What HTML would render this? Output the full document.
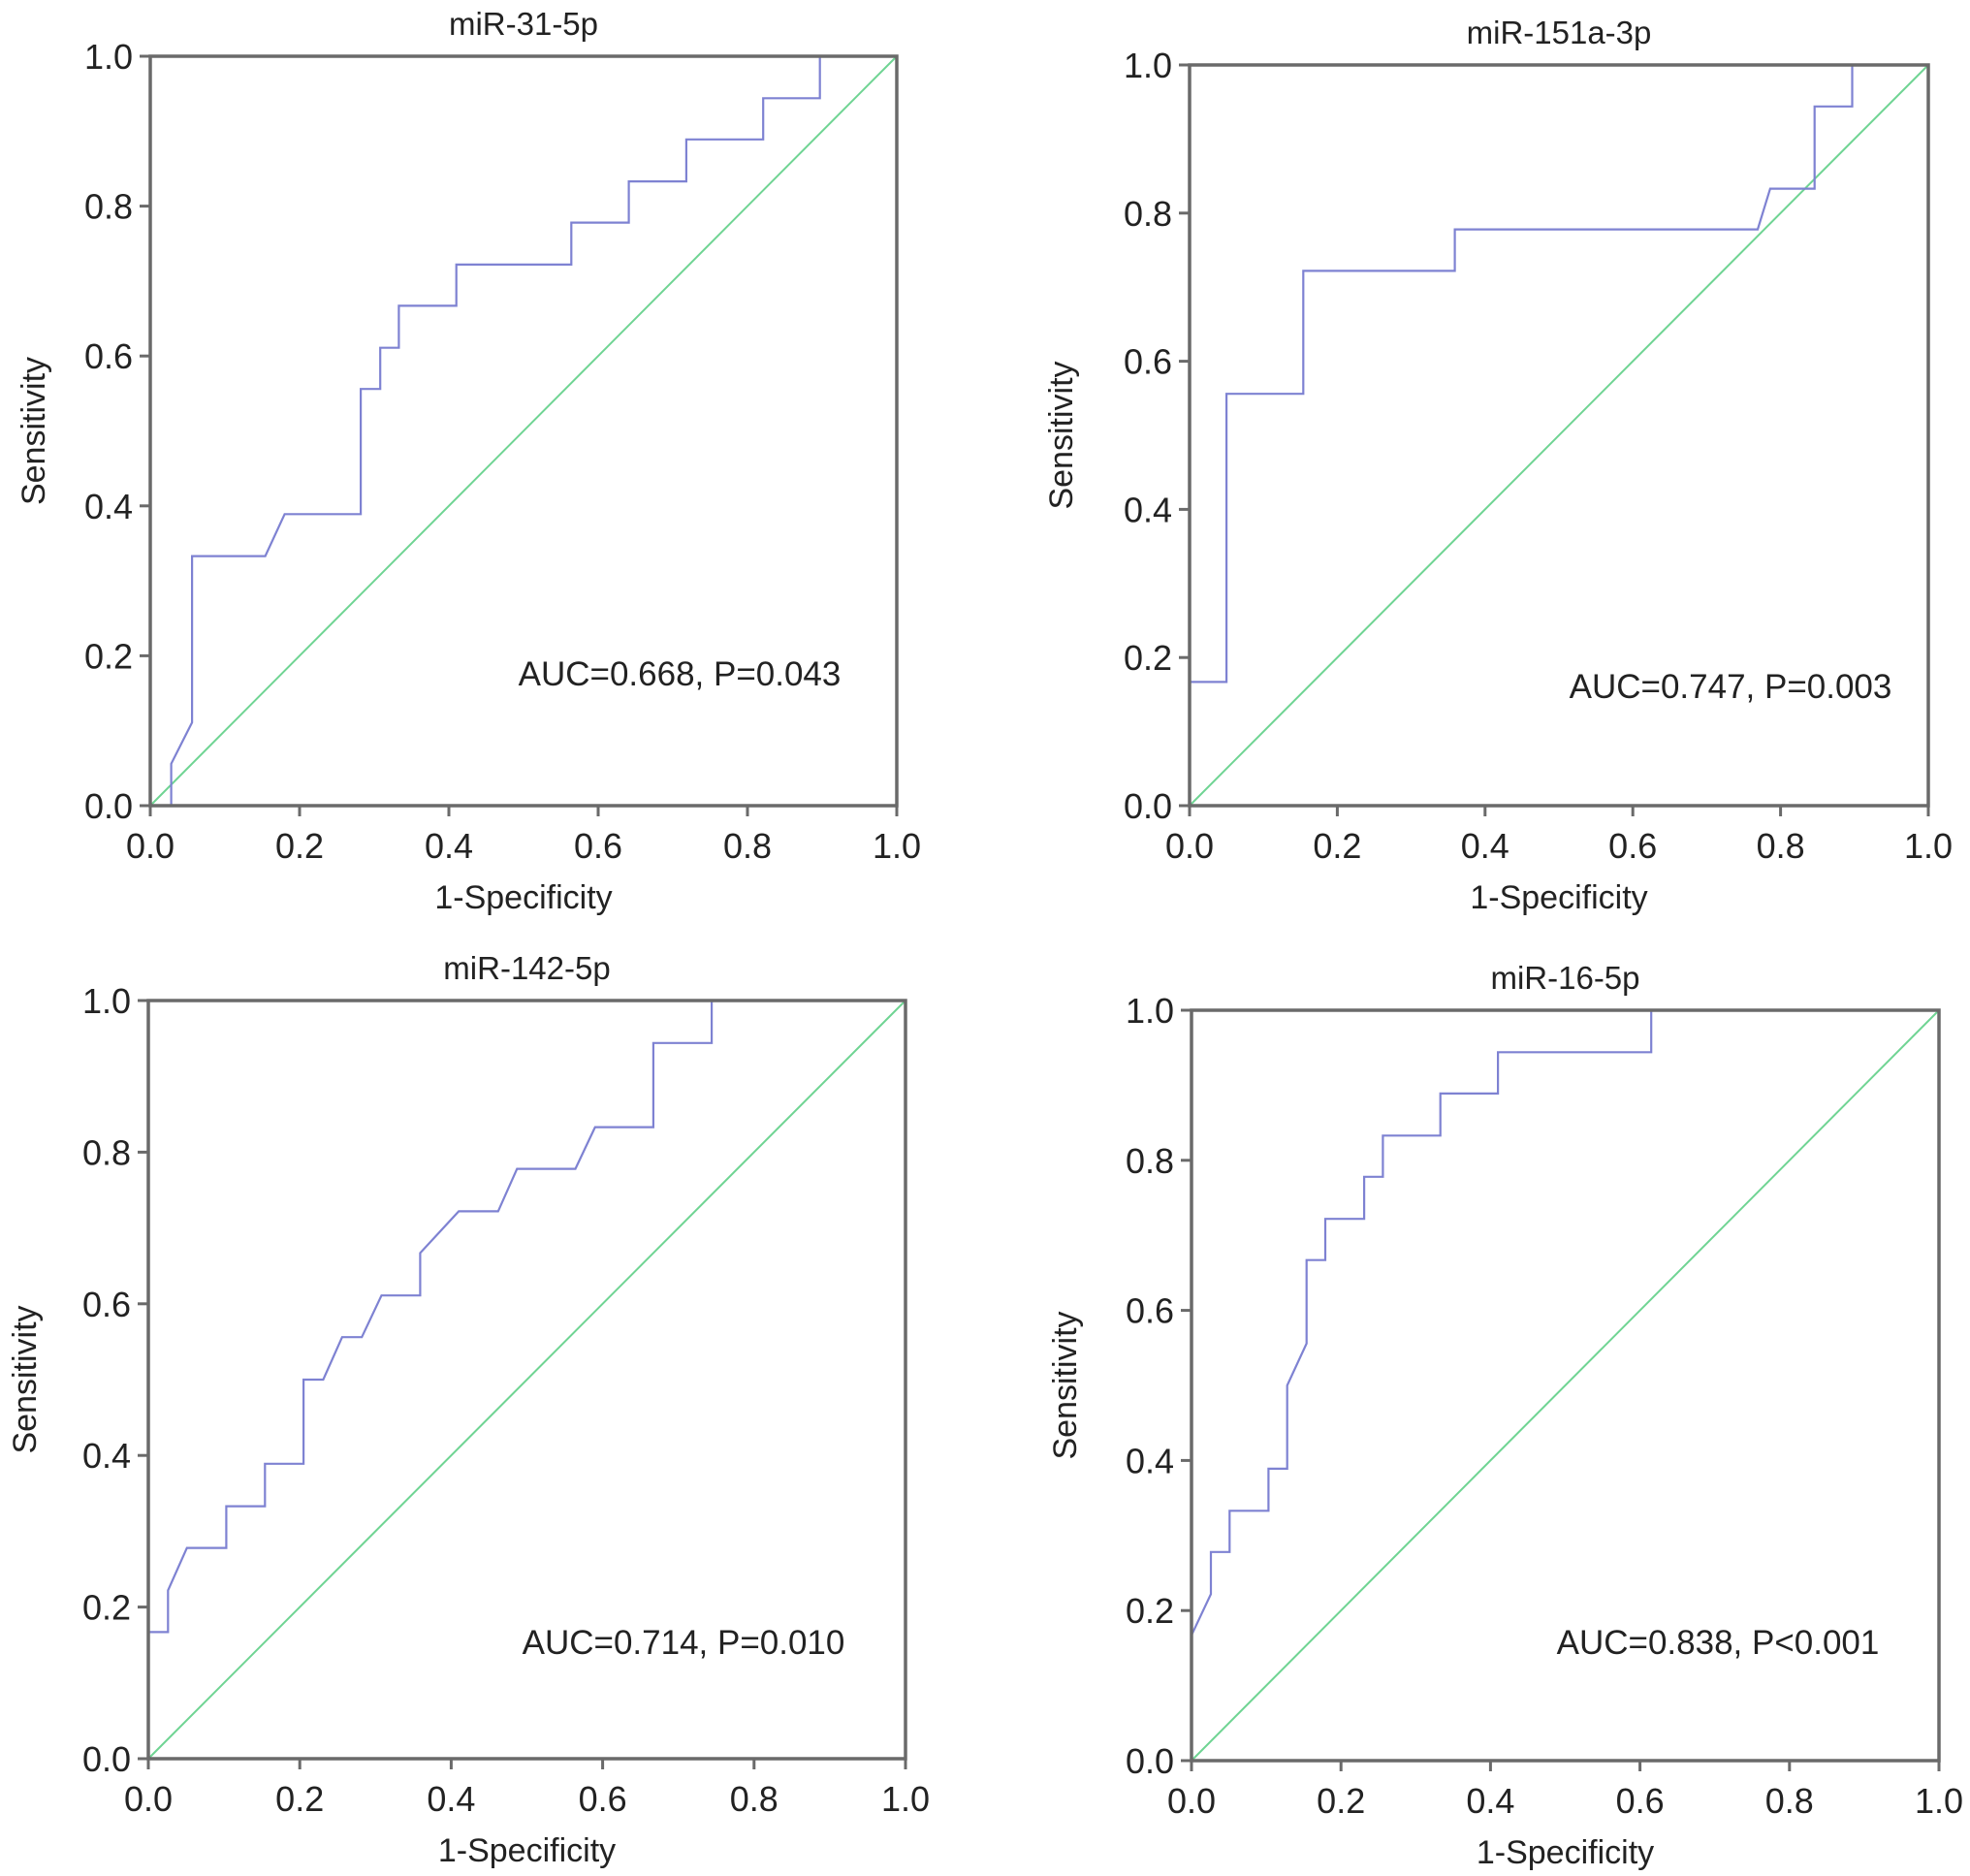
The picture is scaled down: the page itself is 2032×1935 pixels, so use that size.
<!DOCTYPE html>
<html><head><meta charset="utf-8"><style>
html,body{margin:0;padding:0;background:#fff;}
svg{display:block;font-family:"Liberation Sans",Arial,sans-serif;}
</style></head><body>
<svg id="chart" width="2032" height="1935" viewBox="0 0 2032 1935"></svg>
<script>
const panelTitles = ["miR-31-5p","miR-151a-3p","miR-142-5p","miR-16-5p"];
const aucLabels = ["AUC=0.668, P=0.043","AUC=0.747, P=0.003","AUC=0.714, P=0.010","AUC=0.838, P<0.001"];
const tickValues = [0,0.2,0.4,0.6,0.8,1.0];
const tickLabels = ["0.0","0.2","0.4","0.6","0.8","1.0"];
const roc1X = [0,0.028,0.028,0.056,0.056,0.154,0.18,0.282,0.282,0.308,0.308,0.333,0.333,0.41,0.41,0.564,0.564,0.641,0.641,0.718,0.718,0.821,0.821,0.897,0.897,1];
const roc1Y = [0,0,0.056,0.111,0.333,0.333,0.389,0.389,0.556,0.556,0.611,0.611,0.667,0.667,0.722,0.722,0.778,0.778,0.833,0.833,0.889,0.889,0.944,0.944,1,1];
const roc2X = [0,0,0.05,0.05,0.154,0.154,0.359,0.359,0.769,0.786,0.846,0.846,0.897,0.897,1];
const roc2Y = [0,0.167,0.167,0.556,0.556,0.722,0.722,0.778,0.778,0.833,0.833,0.944,0.944,1,1];
const roc3X = [0,0,0.026,0.026,0.051,0.103,0.103,0.154,0.154,0.205,0.205,0.231,0.256,0.282,0.308,0.359,0.359,0.41,0.462,0.487,0.564,0.59,0.667,0.667,0.744,0.744,1];
const roc3Y = [0,0.167,0.167,0.222,0.278,0.278,0.333,0.333,0.389,0.389,0.5,0.5,0.556,0.556,0.611,0.611,0.667,0.722,0.722,0.778,0.778,0.833,0.833,0.944,0.944,1,1];
const roc4X = [0,0,0.026,0.026,0.051,0.051,0.103,0.103,0.128,0.128,0.154,0.154,0.179,0.179,0.231,0.231,0.256,0.256,0.333,0.333,0.41,0.41,0.615,0.615,1];
const roc4Y = [0,0.167,0.222,0.278,0.278,0.333,0.333,0.389,0.389,0.5,0.556,0.667,0.667,0.722,0.722,0.778,0.778,0.833,0.833,0.889,0.889,0.944,0.944,1,1];
const rocXs = [roc1X,roc2X,roc3X,roc4X];
const rocYs = [roc1Y,roc2Y,roc3Y,roc4Y];

const layouts = [
  {l:155,r:925,t:58,b:831,ax:701,ay:695,yl:35},
  {l:1227,r:1989,t:67,b:831,ax:1785,ay:708,yl:1095},
  {l:153,r:934,t:1032,b:1814,ax:705,ay:1694,yl:26},
  {l:1229,r:2000,t:1042,b:1816,ax:1772,ay:1694,yl:1099}
];
const NS="http://www.w3.org/2000/svg";
const svg=document.getElementById('chart');
function mk(tag,attrs,parent){const e=document.createElementNS(NS,tag);for(const k in attrs)e.setAttribute(k,attrs[k]);(parent||svg).appendChild(e);return e;}

layouts.forEach((L,i)=>{
  const g=mk('g',{});
  
  
  const sx=v=>L.l+v*(L.r-L.l);
  const sy=v=>L.b-v*(L.b-L.t);
  const title=mk('text',{x:(L.l+L.r)/2,y:L.t-22,'font-size':33,'text-anchor':'middle',fill:'#222'},g);
  title.textContent=panelTitles[i];
  
  
  const diag=mk('line',{x1:sx(0),y1:sy(0),x2:sx(1),y2:sy(1),stroke:'#6fd493','stroke-width':2},g);
  
  
  const pts=rocXs[i].map((x,k)=>sx(x).toFixed(1)+','+sy(rocYs[i][k]).toFixed(1)).join(' ');
  const curve=mk('polyline',{points:pts,fill:'none',stroke:'#7e82d2','stroke-width':2.2},g);
  
  
  const frame=mk('rect',{x:L.l,y:L.t,width:L.r-L.l,height:L.b-L.t,fill:'none',stroke:'#6a6a6a','stroke-width':3.5},g);
  
  
  tickValues.forEach((v,k)=>{
    mk('line',{x1:sx(v),x2:sx(v),y1:L.b,y2:L.b+11,stroke:'#6a6a6a','stroke-width':3},g);
    mk('line',{x1:L.l-11,x2:L.l,y1:sy(v),y2:sy(v),stroke:'#6a6a6a','stroke-width':3},g);
    const xt=mk('text',{x:sx(v),y:L.b+54,'font-size':36,'text-anchor':'middle',fill:'#222'},g);
    xt.textContent=tickLabels[k];
    
    
    const yt=mk('text',{x:L.l-18,y:sy(v)+13,'font-size':36,'text-anchor':'end',fill:'#222'},g);
    yt.textContent=tickLabels[k];
    
    
  });
  const xl=mk('text',{x:(L.l+L.r)/2,y:L.b+106,'font-size':34,'text-anchor':'middle',fill:'#222'},g);
  xl.textContent='1-Specificity';
  
  
  const cy=(L.t+L.b)/2;
  const yl=mk('text',{x:L.yl,y:cy,'font-size':34,'text-anchor':'middle',fill:'#222',transform:`rotate(-90 ${L.yl} ${cy})`,'dominant-baseline':'central'},g);
  yl.textContent='Sensitivity';
  
  
  const auc=mk('text',{x:L.ax,y:L.ay+12,'font-size':35,'text-anchor':'middle',fill:'#222'},g);
  auc.textContent=aucLabels[i];
  
  
});
</script>
</body></html>
